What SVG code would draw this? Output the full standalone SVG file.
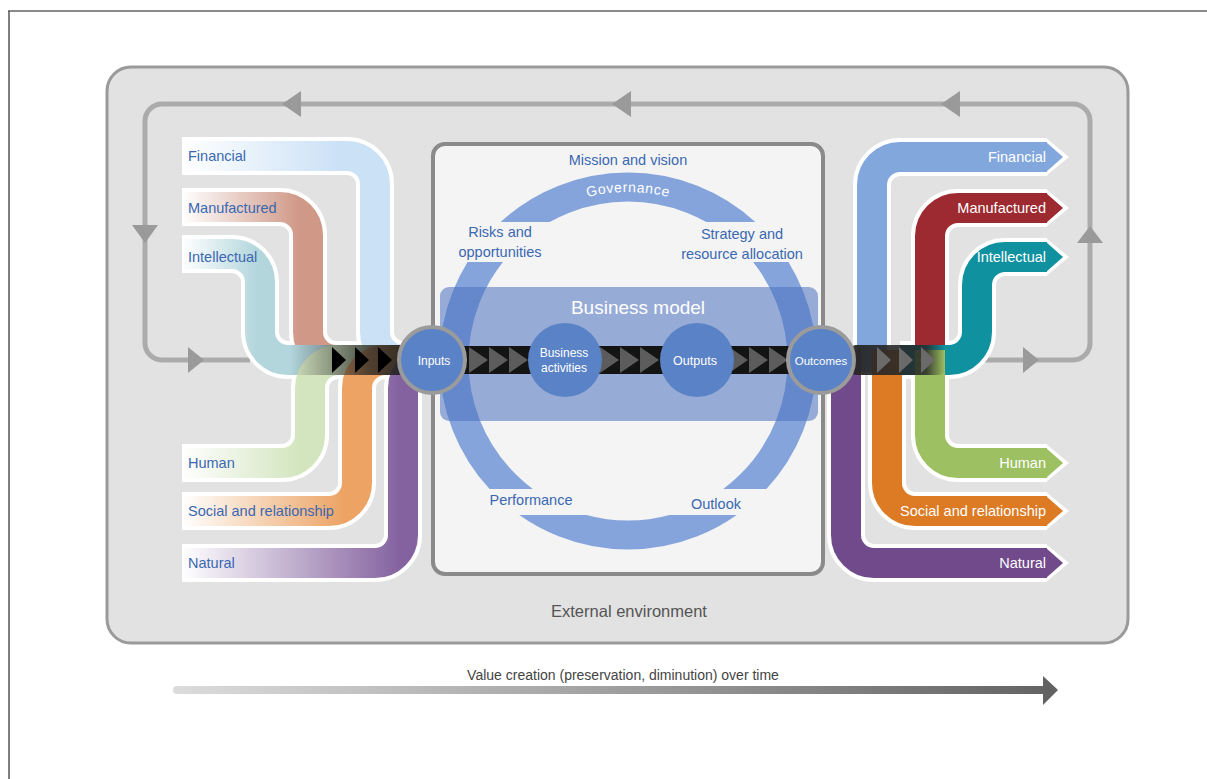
<svg xmlns="http://www.w3.org/2000/svg" width="1207" height="779" viewBox="0 0 1207 779">
<defs>
<style>
text{font-family:"Liberation Sans",Arial,sans-serif}
.lbl{font-size:14.5px;fill:#3a68b2}
.rl{font-size:14.5px;fill:#fff;text-anchor:end}
.ct{font-size:14.5px;fill:#3a68b2;text-anchor:middle}
.cw{fill:#fff;text-anchor:middle}
.wh{fill:none;stroke:#fff;stroke-width:38}
.st{fill:none;stroke-width:30}
.loop{fill:none;stroke:#ababab;stroke-width:5}
.lh{fill:#9a9a9a}
.node{fill:#5a82c6}
.ring{fill:#5a82c6;stroke:#9b9b9b;stroke-width:4}
.chevK{fill:#000}
.chevG{fill:#5c5c5c}
.chevR{fill:#6a6a6a}
</style>
<linearGradient id="gFin" gradientUnits="userSpaceOnUse" x1="182" y1="0" x2="340" y2="0"><stop offset="0" stop-color="#fff"/><stop offset="1" stop-color="#cbe1f6"/></linearGradient>
<linearGradient id="gMan" gradientUnits="userSpaceOnUse" x1="182" y1="0" x2="300" y2="0"><stop offset="0" stop-color="#fff"/><stop offset="1" stop-color="#cf9887"/></linearGradient>
<linearGradient id="gInt" gradientUnits="userSpaceOnUse" x1="182" y1="0" x2="258" y2="0"><stop offset="0" stop-color="#fff"/><stop offset="1" stop-color="#b2d6dc"/></linearGradient>
<linearGradient id="gHum" gradientUnits="userSpaceOnUse" x1="182" y1="0" x2="300" y2="0"><stop offset="0" stop-color="#fff"/><stop offset="1" stop-color="#d3e5bf"/></linearGradient>
<linearGradient id="gSoc" gradientUnits="userSpaceOnUse" x1="182" y1="0" x2="345" y2="0"><stop offset="0" stop-color="#fff"/><stop offset="1" stop-color="#eca364"/></linearGradient>
<linearGradient id="gNat" gradientUnits="userSpaceOnUse" x1="182" y1="0" x2="400" y2="0"><stop offset="0" stop-color="#fff"/><stop offset="1" stop-color="#84629f"/></linearGradient>
<linearGradient id="gDarkL" gradientUnits="userSpaceOnUse" x1="290" y1="0" x2="420" y2="0"><stop offset="0" stop-color="#1e1e1e" stop-opacity="0"/><stop offset="0.6" stop-color="#1e1e1e" stop-opacity="0.75"/><stop offset="1" stop-color="#1e1e1e" stop-opacity="0.95"/></linearGradient>
<linearGradient id="gDarkR" gradientUnits="userSpaceOnUse" x1="850" y1="0" x2="945" y2="0"><stop offset="0" stop-color="#262626" stop-opacity="0.95"/><stop offset="0.8" stop-color="#262626" stop-opacity="0.85"/><stop offset="1" stop-color="#262626" stop-opacity="0"/></linearGradient>
<linearGradient id="gTime" gradientUnits="userSpaceOnUse" x1="173" y1="0" x2="1058" y2="0"><stop offset="0" stop-color="#dcdcdc"/><stop offset="1" stop-color="#626262"/></linearGradient>
<clipPath id="ringClip">
<rect x="0" y="0" width="1207" height="222"/>
<rect x="0" y="262" width="1207" height="227"/>
<rect x="0" y="515" width="1207" height="264"/>
</clipPath>
<path id="govArc" d="M 538 218 A 169 169 0 0 1 718 218"/>
</defs>

<g id="frame">
<line x1="8" y1="11" x2="1207" y2="11" stroke="#8a8a8a" stroke-width="2"/>
<line x1="9" y1="11" x2="9" y2="779" stroke="#555" stroke-width="1.5"/>
</g>

<g id="external-environment">
<rect x="107" y="67" width="1021" height="576" rx="24" fill="#e2e2e2" stroke="#9a9a9a" stroke-width="3"/>
<text x="629" y="617" font-size="16.5" fill="#555" text-anchor="middle">External environment</text>
</g>

<g id="connectors">
<path class="loop" d="M 250 360 H 162 A 17 17 0 0 1 145 343 V 121 A 17 17 0 0 1 162 104 H 1073 A 17 17 0 0 1 1090 121 V 343 A 17 17 0 0 1 1073 360 H 985"/>
<polygon class="lh" points="282,104 301,91 301,117"/>
<polygon class="lh" points="612,104 631,91 631,117"/>
<polygon class="lh" points="941,104 960,91 960,117"/>
<polygon class="lh" points="132,225 158,225 145,243"/>
<polygon class="lh" points="188,347 188,373 204,360"/>
<polygon class="lh" points="1077,243 1103,243 1090,226"/>
<polygon class="lh" points="1023,347 1023,373 1039,360"/>
</g>

<g id="organisation">
<rect x="433" y="144" width="390" height="430" rx="12" fill="#f4f4f4" stroke="#8a8a8a" stroke-width="4"/>
<circle cx="628" cy="361" r="174" fill="none" stroke="#85a4db" stroke-width="29" clip-path="url(#ringClip)"/>
<text class="ct" x="628" y="165">Mission and vision</text>
<text font-size="14" fill="#fff" letter-spacing="0.6"><textPath href="#govArc" startOffset="50%" text-anchor="middle">Governance</textPath></text>
<text class="ct" x="500" y="237">Risks and</text>
<text class="ct" x="500" y="257">opportunities</text>
<text class="ct" x="742" y="239">Strategy and</text>
<text class="ct" x="742" y="259">resource allocation</text>
<text class="ct" x="531" y="505">Performance</text>
<text class="ct" x="716" y="509">Outlook</text>
<rect x="440" y="287" width="378" height="134" rx="9" fill="#4a6fbf" fill-opacity="0.55"/>
<text class="cw" x="638" y="314" font-size="19">Business model</text>
</g>

<g id="input-capitals">
<path class="wh" d="M 182 156 H 347 A 28 28 0 0 1 375 184 V 332 A 28 28 0 0 0 403 360 H 420"/>
<path class="wh" d="M 182 207 H 280 A 28 28 0 0 1 308 235 V 332 A 28 28 0 0 0 336 360 H 420"/>
<path class="wh" d="M 182 254 H 232 A 28 28 0 0 1 260 282 V 332 A 28 28 0 0 0 288 360 H 420"/>
<path class="wh" d="M 182 463 H 282 A 28 28 0 0 0 310 435 V 388 A 28 28 0 0 1 338 360 H 420"/>
<path class="wh" d="M 182 511 H 329 A 28 28 0 0 0 357 483 V 388 A 28 28 0 0 1 385 360 H 420"/>
<path class="wh" d="M 182 563 H 375 A 28 28 0 0 0 403 535 V 388 A 28 28 0 0 1 431 360 H 440"/>
<path class="st" stroke="url(#gFin)" d="M 182 156 H 347 A 28 28 0 0 1 375 184 V 332 A 28 28 0 0 0 403 360 H 420"/>
<path class="st" stroke="url(#gMan)" d="M 182 207 H 280 A 28 28 0 0 1 308 235 V 332 A 28 28 0 0 0 336 360 H 420"/>
<path class="st" stroke="url(#gInt)" d="M 182 254 H 232 A 28 28 0 0 1 260 282 V 332 A 28 28 0 0 0 288 360 H 420"/>
<path class="st" stroke="url(#gHum)" d="M 182 463 H 282 A 28 28 0 0 0 310 435 V 388 A 28 28 0 0 1 338 360 H 420"/>
<path class="st" stroke="url(#gSoc)" d="M 182 511 H 329 A 28 28 0 0 0 357 483 V 388 A 28 28 0 0 1 385 360 H 420"/>
<path class="st" stroke="url(#gNat)" d="M 182 563 H 375 A 28 28 0 0 0 403 535 V 388 A 28 28 0 0 1 431 360 H 440"/>
<text class="lbl" x="188" y="161">Financial</text>
<text class="lbl" x="188" y="213">Manufactured</text>
<text class="lbl" x="188" y="262">Intellectual</text>
<text class="lbl" x="188" y="468">Human</text>
<text class="lbl" x="188" y="516">Social and relationship</text>
<text class="lbl" x="188" y="568">Natural</text>
</g>

<g id="outcome-capitals">
<g fill="#fff" stroke="none">
<path class="wh" d="M 872 372 V 185 A 28 28 0 0 1 900 157 H 1047"/>
<path class="wh" d="M 930 372 V 236 A 28 28 0 0 1 958 208 H 1047"/>
<path class="wh" d="M 900 360 H 949 A 28 28 0 0 0 977 332 V 285 A 28 28 0 0 1 1005 257 H 1047"/>
<path class="wh" d="M 930 350 V 435 A 28 28 0 0 0 958 463 H 1047"/>
<path class="wh" d="M 887 350 V 483 A 28 28 0 0 0 915 511 H 1047"/>
<path class="wh" d="M 846 350 V 535 A 28 28 0 0 0 874 563 H 1047"/>
<polygon points="1046,138 1069,157 1046,176"/>
<polygon points="1046,189 1069,208 1046,227"/>
<polygon points="1046,238 1069,257 1046,276"/>
<polygon points="1046,444 1069,463 1046,482"/>
<polygon points="1046,492 1069,511 1046,530"/>
<polygon points="1046,544 1069,563 1046,582"/>
</g>
<path class="st" stroke="#82a7dc" d="M 872 372 V 185 A 28 28 0 0 1 900 157 H 1047"/>
<polygon fill="#82a7dc" points="1046,142 1063,157 1046,172"/>
<path class="st" stroke="#9c2a30" d="M 930 372 V 236 A 28 28 0 0 1 958 208 H 1047"/>
<polygon fill="#9c2a30" points="1046,193 1063,208 1046,223"/>
<path class="st" stroke="#0f919f" d="M 900 360 H 949 A 28 28 0 0 0 977 332 V 285 A 28 28 0 0 1 1005 257 H 1047"/>
<polygon fill="#0f919f" points="1046,242 1063,257 1046,272"/>
<path class="st" stroke="#9dc062" d="M 930 350 V 435 A 28 28 0 0 0 958 463 H 1047"/>
<polygon fill="#9dc062" points="1046,448 1063,463 1046,478"/>
<path class="st" stroke="#dd7a24" d="M 887 350 V 483 A 28 28 0 0 0 915 511 H 1047"/>
<polygon fill="#dd7a24" points="1046,496 1063,511 1046,526"/>
<path class="st" stroke="#704a8a" d="M 846 350 V 535 A 28 28 0 0 0 874 563 H 1047"/>
<polygon fill="#704a8a" points="1046,548 1063,563 1046,578"/>
<text class="rl" x="1046" y="162">Financial</text>
<text class="rl" x="1046" y="213">Manufactured</text>
<text class="rl" x="1046" y="262">Intellectual</text>
<text class="rl" x="1046" y="468">Human</text>
<text class="rl" x="1046" y="516">Social and relationship</text>
<text class="rl" x="1046" y="568">Natural</text>
</g>

<g id="value-chain">
<rect x="290" y="345" width="142" height="30" fill="url(#gDarkL)"/>
<rect x="432" y="346" width="389" height="28" fill="#141414"/>
<rect x="850" y="345" width="95" height="30" rx="6" fill="url(#gDarkR)"/>
<polygon class="chevK" points="332,347 346,360 332,373"/>
<polygon class="chevK" points="355,347 369,360 355,373"/>
<polygon class="chevK" points="378,347 392,360 378,373"/>
<polygon class="chevG" points="469,347 488,360 469,373"/>
<polygon class="chevG" points="489,347 508,360 489,373"/>
<polygon class="chevG" points="509,347 528,360 509,373"/>
<polygon class="chevG" points="600,347 619,360 600,373"/>
<polygon class="chevG" points="620,347 639,360 620,373"/>
<polygon class="chevG" points="640,347 659,360 640,373"/>
<polygon class="chevG" points="729,347 748,360 729,373"/>
<polygon class="chevG" points="749,347 768,360 749,373"/>
<polygon class="chevG" points="769,347 788,360 769,373"/>
<polygon class="chevR" points="877,347 891,360 877,373"/>
<polygon class="chevR" points="899,347 913,360 899,373"/>
<polygon class="chevR" points="921,347 935,360 921,373"/>
</g>

<g id="inputs">
<circle class="ring" cx="432" cy="360" r="33"/>
<text class="cw" x="434" y="365" font-size="12">Inputs</text>
</g>
<g id="business-activities">
<circle class="node" cx="565" cy="360" r="37"/>
<text class="cw" x="564" y="357" font-size="12">Business</text>
<text class="cw" x="564" y="372" font-size="12">activities</text>
</g>
<g id="outputs">
<circle class="node" cx="697" cy="360" r="37"/>
<text class="cw" x="695" y="365" font-size="12.5">Outputs</text>
</g>
<g id="outcomes">
<circle class="ring" cx="821" cy="360" r="33"/>
<text class="cw" x="821" y="365" font-size="11.5">Outcomes</text>
</g>

<g id="time-axis">
<text x="623" y="680" font-size="14" fill="#444" text-anchor="middle">Value creation (preservation, diminution) over time</text>
<path d="M 177 686 H 1045 V 694 H 177 A 4 4 0 0 1 177 686 Z" fill="url(#gTime)"/>
<polygon points="1043,676 1058,690 1043,705" fill="#626262"/>
</g>
</svg>
